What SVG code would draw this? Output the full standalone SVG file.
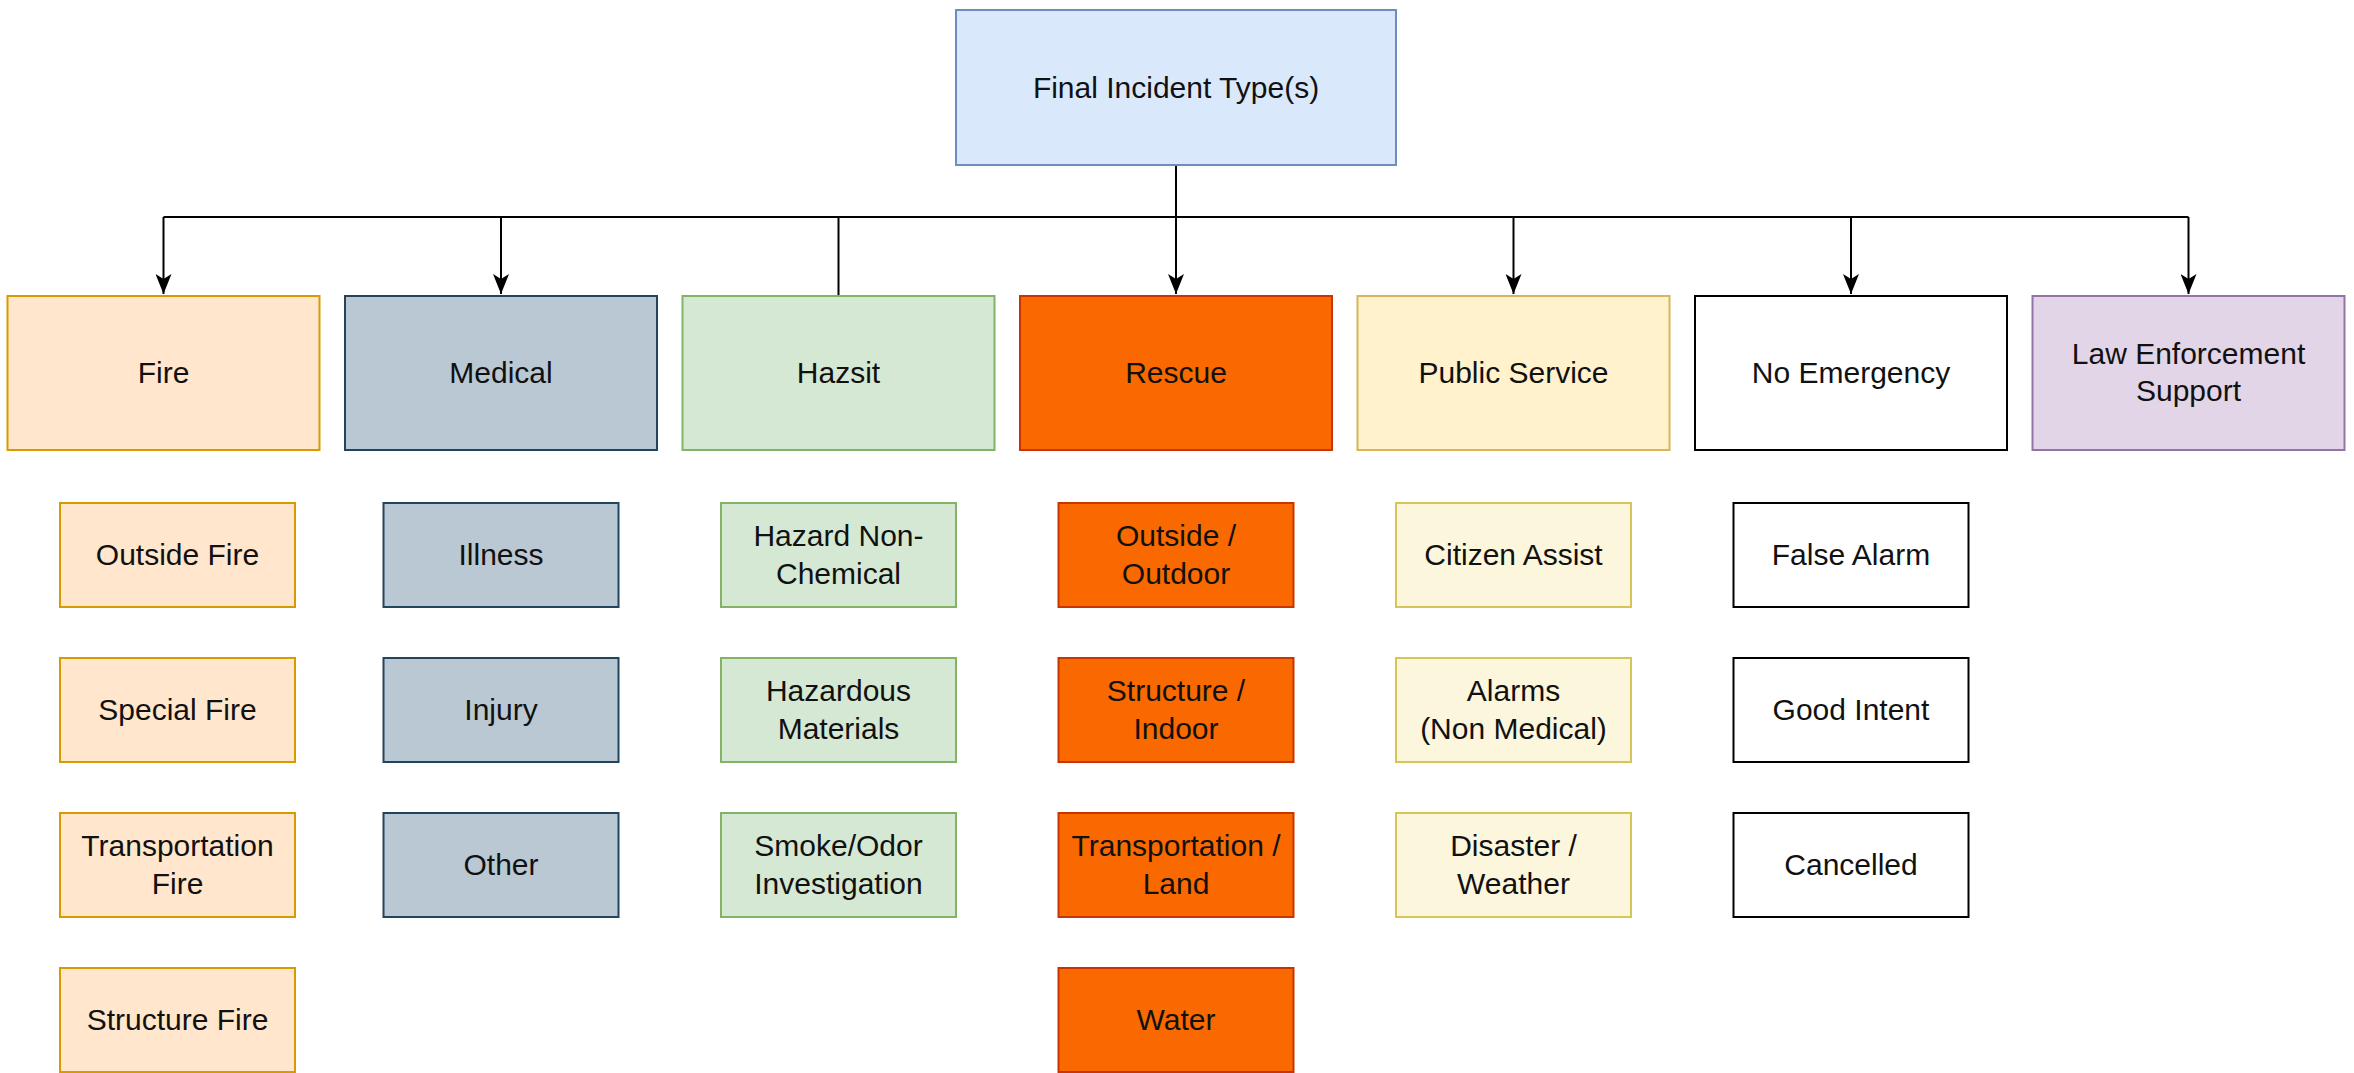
<svg xmlns="http://www.w3.org/2000/svg" width="2354" height="1073" viewBox="0 0 2354 1073">
<style>
text{font-family:"Liberation Sans",Arial,Helvetica,sans-serif;font-size:30px;fill:#111;text-anchor:middle}
rect{stroke-width:2}
.top{fill:#dae8fc;stroke:#6c8ebf}
.fire{fill:#ffe6cc;stroke:#d79b00}
.med{fill:#bac8d3;stroke:#23445d}
.haz{fill:#d5e8d4;stroke:#82b366}
.res{fill:#fa6800;stroke:#c73500}
.pub{fill:#fff2cc;stroke:#d6b656}
.pubs{fill:#fcf6dc;stroke:#d6c656}
.noe{fill:#ffffff;stroke:#000000}
.law{fill:#e1d5e7;stroke:#9673a6}
.conn{stroke:#000;stroke-width:2;fill:none}
</style>
<defs>
<marker id="arr" viewBox="0 0 20 16" refX="20" refY="8" markerWidth="20" markerHeight="16" markerUnits="userSpaceOnUse" orient="auto">
<path d="M0,0 L20,8 L0,16 L5,8 z" fill="#000"/>
</marker>
</defs>
<rect width="2354" height="1073" fill="#ffffff" style="stroke:none"/>
<g id="connectors">
<path class="conn" d="M1176,165 V294" marker-end="url(#arr)"/>
<path class="conn" d="M163.5,217 H2188.5"/>
<path class="conn" d="M163.5,217 V294" marker-end="url(#arr)"/>
<path class="conn" d="M501,217 V294" marker-end="url(#arr)"/>
<path class="conn" d="M838.5,217 V296"/>
<path class="conn" d="M1513.5,217 V294" marker-end="url(#arr)"/>
<path class="conn" d="M1851,217 V294" marker-end="url(#arr)"/>
<path class="conn" d="M2188.5,217 V294" marker-end="url(#arr)"/>
</g>
<g id="final"><rect class="top" x="956" y="10" width="440" height="155"/><text x="1176" y="98">Final Incident Type(s)</text></g>
<g id="fire"><rect class="fire" x="7.5" y="296" width="312" height="154"/><text x="163.5" y="383">Fire</text></g>
<g id="medical"><rect class="med" x="345" y="296" width="312" height="154"/><text x="501" y="383">Medical</text></g>
<g id="hazsit"><rect class="haz" x="682.5" y="296" width="312" height="154"/><text x="838.5" y="383">Hazsit</text></g>
<g id="rescue"><rect class="res" x="1020" y="296" width="312" height="154"/><text x="1176" y="383">Rescue</text></g>
<g id="public"><rect class="pub" x="1357.5" y="296" width="312" height="154"/><text x="1513.5" y="383">Public Service</text></g>
<g id="noemergency"><rect class="noe" x="1695" y="296" width="312" height="154"/><text x="1851" y="383">No Emergency</text></g>
<g id="law"><rect class="law" x="2032.5" y="296" width="312" height="154"/><text x="2188.5" y="364">Law Enforcement</text><text x="2188.5" y="401">Support</text></g>

<g id="outside-fire"><rect class="fire" x="60" y="503" width="235" height="104"/><text x="177.5" y="565">Outside Fire</text></g>
<g id="special-fire"><rect class="fire" x="60" y="658" width="235" height="104"/><text x="177.5" y="720">Special Fire</text></g>
<g id="transport-fire"><rect class="fire" x="60" y="813" width="235" height="104"/><text x="177.5" y="856">Transportation</text><text x="177.5" y="894">Fire</text></g>
<g id="structure-fire"><rect class="fire" x="60" y="968" width="235" height="104"/><text x="177.5" y="1030">Structure Fire</text></g>

<g id="illness"><rect class="med" x="383.5" y="503" width="235" height="104"/><text x="501" y="565">Illness</text></g>
<g id="injury"><rect class="med" x="383.5" y="658" width="235" height="104"/><text x="501" y="720">Injury</text></g>
<g id="other"><rect class="med" x="383.5" y="813" width="235" height="104"/><text x="501" y="875">Other</text></g>

<g id="hazard-nonchem"><rect class="haz" x="721" y="503" width="235" height="104"/><text x="838.5" y="546">Hazard Non-</text><text x="838.5" y="584">Chemical</text></g>
<g id="hazmat"><rect class="haz" x="721" y="658" width="235" height="104"/><text x="838.5" y="701">Hazardous</text><text x="838.5" y="739">Materials</text></g>
<g id="smoke"><rect class="haz" x="721" y="813" width="235" height="104"/><text x="838.5" y="856">Smoke/Odor</text><text x="838.5" y="894">Investigation</text></g>

<g id="outside-outdoor"><rect class="res" x="1058.5" y="503" width="235" height="104"/><text x="1176" y="546">Outside /</text><text x="1176" y="584">Outdoor</text></g>
<g id="structure-indoor"><rect class="res" x="1058.5" y="658" width="235" height="104"/><text x="1176" y="701">Structure /</text><text x="1176" y="739">Indoor</text></g>
<g id="transport-land"><rect class="res" x="1058.5" y="813" width="235" height="104"/><text x="1176" y="856">Transportation /</text><text x="1176" y="894">Land</text></g>
<g id="water"><rect class="res" x="1058.5" y="968" width="235" height="104"/><text x="1176" y="1030">Water</text></g>

<g id="citizen-assist"><rect class="pubs" x="1396" y="503" width="235" height="104"/><text x="1513.5" y="565">Citizen Assist</text></g>
<g id="alarms"><rect class="pubs" x="1396" y="658" width="235" height="104"/><text x="1513.5" y="701">Alarms</text><text x="1513.5" y="739">(Non Medical)</text></g>
<g id="disaster"><rect class="pubs" x="1396" y="813" width="235" height="104"/><text x="1513.5" y="856">Disaster /</text><text x="1513.5" y="894">Weather</text></g>

<g id="false-alarm"><rect class="noe" x="1733.5" y="503" width="235" height="104"/><text x="1851" y="565">False Alarm</text></g>
<g id="good-intent"><rect class="noe" x="1733.5" y="658" width="235" height="104"/><text x="1851" y="720">Good Intent</text></g>
<g id="cancelled"><rect class="noe" x="1733.5" y="813" width="235" height="104"/><text x="1851" y="875">Cancelled</text></g>
</svg>
